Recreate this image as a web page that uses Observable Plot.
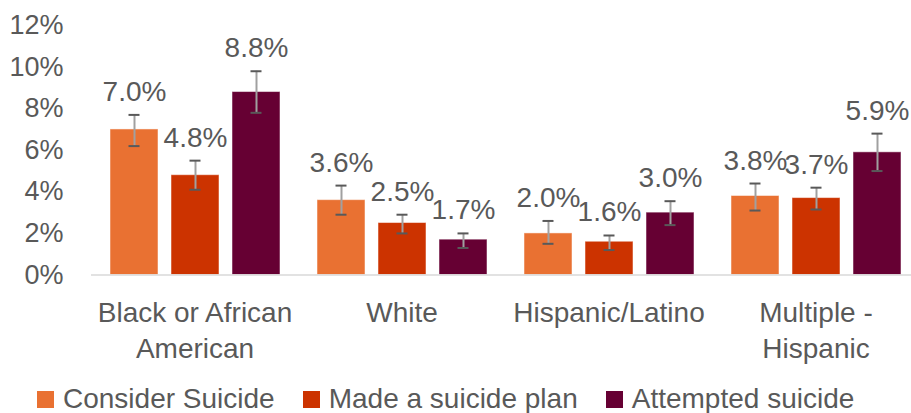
<!DOCTYPE html>
<html>
<head>
<meta charset="utf-8">
<script src="https://cdn.jsdelivr.net/npm/d3@7"></script>
<script src="https://cdn.jsdelivr.net/npm/@observablehq/plot@0.6"></script>
<style>
  html, body { margin: 0; padding: 0; background: #fff; overflow: hidden; }
  #wrap { position: relative; width: 911px; height: 413px; overflow: hidden; font-family: "Liberation Sans", Arial, sans-serif; }
  #chart svg { max-width: none !important; }
  #legend { position: absolute; left: 37px; top: 384px; display: flex; align-items: center; gap: 28px; font-size: 28px; line-height: 30px; color: #595959; white-space: nowrap; }
  .item { display: flex; align-items: center; gap: 9px; }
  .sw { width: 17px; height: 17px; display: inline-block; }
</style>
</head>
<body>
<div id="wrap"><div id="chart"></div><div id="legend"></div></div>
<script>
const groups = ["Black or African American", "White", "Hispanic/Latino", "Multiple - Hispanic"];
const groupLabels = ["Black or African\nAmerican", "White", "Hispanic/Latino", "Multiple -\nHispanic"];
const series = ["Consider Suicide", "Made a suicide plan", "Attempted suicide"];
const colors = ["#E97132", "#CC3300", "#660033"];

const consider = [7.0, 3.6, 2.0, 3.8];
const considerLow = [6.2, 2.9, 1.5, 3.1];
const considerHigh = [7.7, 4.3, 2.6, 4.4];

const plan = [4.8, 2.5, 1.6, 3.7];
const planLow = [4.1, 2.0, 1.2, 3.15];
const planHigh = [5.5, 2.9, 1.9, 4.2];

const attempt = [8.8, 1.7, 3.0, 5.9];
const attemptLow = [7.8, 1.3, 2.4, 5.0];
const attemptHigh = [9.8, 2.0, 3.55, 6.8];

const yTicks = [0, 2, 4, 6, 8, 10, 12];

const seriesData = [
  [consider, considerLow, considerHigh],
  [plan, planLow, planHigh],
  [attempt, attemptLow, attemptHigh]
];
const rows = [];
groups.forEach((g, gi) => {
  series.forEach((s, si) => {
    const [v, lo, hi] = seriesData[si];
    rows.push({group: g, series: s, value: v[gi], lo: lo[gi], hi: hi[gi]});
  });
});

const font = "Liberation Sans, Arial, sans-serif";
const chart = Plot.plot({
  width: 921,
  height: 370,
  marginLeft: 89,
  marginRight: 1,
  marginTop: 25,
  marginBottom: 95.5,
  style: {fontFamily: font, fontSize: "27px", color: "#595959", background: "white", overflow: "visible", maxWidth: "none"},
  fx: {domain: groups, padding: 0},
  x: {domain: series, paddingInner: 0.22, paddingOuter: 0.28},
  y: {domain: [0, 12]},
  color: {domain: series, range: colors},
  marks: [
    Plot.barY(rows, {fx: "group", x: "series", y: "value", fill: "series", stroke: "white", strokeOpacity: 0.5, strokeWidth: 1}),
    Plot.ruleY([0], {stroke: "#d9d9d9", strokeWidth: 1.5}),
    Plot.ruleX(rows, {fx: "group", x: "series", y1: "lo", y2: "hi", stroke: "#a0a0a0", strokeWidth: 2}),
    Plot.tickY(rows, {fx: "group", x: "series", y: "lo", stroke: "#595959", strokeWidth: 2, insetLeft: 18.5, insetRight: 18.5}),
    Plot.tickY(rows, {fx: "group", x: "series", y: "hi", stroke: "#595959", strokeWidth: 2, insetLeft: 18.5, insetRight: 18.5}),
    Plot.text(rows, {fx: "group", x: "series", y: "hi", text: d => d.value.toFixed(1) + "%", lineAnchor: "bottom", dy: -14, fill: "#595959", fontSize: 28}),
    Plot.axisY({ticks: yTicks, tickFormat: d => d + "%", tickSize: 0, tickPadding: 28, label: null, fill: "#595959", fontSize: 27}),
    Plot.axisX({ticks: [], label: null}),
    Plot.axisFx({anchor: "bottom", tickSize: 0, tickPadding: 22, label: null, lineHeight: 1.27, fontSize: 28, fill: "#595959",
      tickFormat: d => groupLabels[groups.indexOf(d)]})
  ]
});
chart.style.maxWidth = "none";
document.getElementById("chart").appendChild(chart);

const legend = document.getElementById("legend");
series.forEach((s, i) => {
  const item = document.createElement("div");
  item.className = "item";
  const sw = document.createElement("span");
  sw.className = "sw";
  sw.style.background = colors[i];
  const t = document.createElement("span");
  t.textContent = s;
  item.appendChild(sw);
  item.appendChild(t);
  legend.appendChild(item);
});
</script>
</body>
</html>
